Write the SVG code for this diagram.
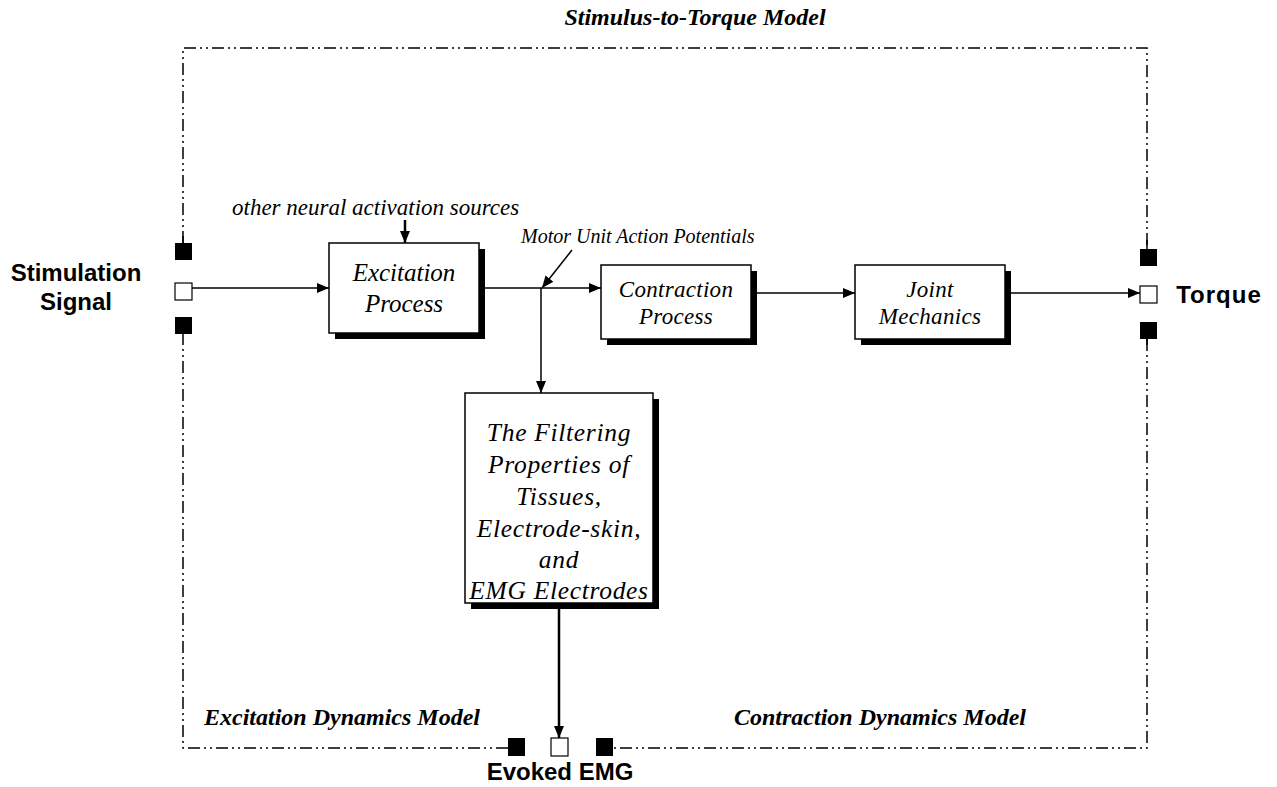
<svg xmlns="http://www.w3.org/2000/svg" width="1277" height="787" viewBox="0 0 1277 787">
<style>
.frame{fill:none;stroke:#000;stroke-width:1.5;stroke-dasharray:12 4 2 4 2 4}
.box{fill:#fff;stroke:#000;stroke-width:1.5}
.shadow{fill:#000}
.bt{font-family:"Liberation Serif",serif;font-style:italic;font-size:25px;text-anchor:middle;fill:#000}
.bs{font-family:"Liberation Serif",serif;font-style:italic;font-size:23px;letter-spacing:0.3px;text-anchor:middle;fill:#000}
.ft{font-family:"Liberation Serif",serif;font-style:italic;font-size:25.5px;letter-spacing:0.7px;text-anchor:middle;fill:#000}
.lbl{font-family:"Liberation Serif",serif;font-style:italic;font-size:23px;fill:#000}
.mlbl{font-family:"Liberation Serif",serif;font-style:italic;font-weight:bold;font-size:24px;fill:#000}
.io{font-family:"Liberation Sans",Arial,sans-serif;font-weight:bold;font-size:24px;fill:#000;text-anchor:middle}
.port{fill:#000}
.oport{fill:#fff;stroke:#000;stroke-width:1.2}
.conn{fill:none;stroke:#000;stroke-width:1.5}
.thick{fill:none;stroke:#000;stroke-width:2.5}
</style>
<defs>
<marker id="ah" markerWidth="12" markerHeight="10" refX="12" refY="5" orient="auto" markerUnits="userSpaceOnUse">
<path d="M0,0 L12,5 L0,10 Z" fill="#000"/>
</marker>
</defs>

<g id="frame">
<path class="frame" d="M183,243 L183,48 L1147,48 L1147,249"/>
<path class="frame" d="M1147,339 L1147,748 L613,748"/>
<path class="frame" d="M508,748 L183,748 L183,334"/>
<text class="mlbl" x="695" y="25" text-anchor="middle">Stimulus-to-Torque Model</text>
<text class="mlbl" x="204" y="725">Excitation Dynamics Model</text>
<text class="mlbl" x="734" y="725">Contraction Dynamics Model</text>
</g>

<g id="ports">
<rect class="port" x="175" y="243" width="17" height="17"/>
<rect class="oport" x="175" y="283" width="17" height="17"/>
<rect class="port" x="175" y="317" width="17" height="17"/>
<rect class="port" x="1140" y="249" width="17" height="17"/>
<rect class="oport" x="1140" y="286" width="17" height="17"/>
<rect class="port" x="1140" y="322" width="17" height="17"/>
<rect class="port" x="508" y="738" width="17" height="18"/>
<rect class="oport" x="551" y="738" width="17" height="18"/>
<rect class="port" x="596" y="738" width="17" height="18"/>
</g>

<g id="io-labels">
<text class="io" x="76" y="281">Stimulation</text>
<text class="io" x="76" y="310">Signal</text>
<text class="io" x="1219" y="303" style="letter-spacing:1px">Torque</text>
<text class="io" x="560" y="780">Evoked EMG</text>
</g>

<g id="excitation">
<rect class="shadow" x="335" y="249" width="150" height="90"/>
<rect class="box" x="329" y="243" width="150" height="90"/>
<text class="bt" x="404" y="281">Excitation</text>
<text class="bt" x="404" y="312">Process</text>
</g>

<g id="contraction">
<rect class="shadow" x="607" y="271" width="150" height="74"/>
<rect class="box" x="601" y="265" width="150" height="74"/>
<text class="bs" x="676" y="297">Contraction</text>
<text class="bs" x="676" y="324">Process</text>
</g>

<g id="joint">
<rect class="shadow" x="861" y="271" width="150" height="74"/>
<rect class="box" x="855" y="265" width="150" height="74"/>
<text class="bs" x="930" y="297">Joint</text>
<text class="bs" x="930" y="324">Mechanics</text>
</g>

<g id="filtering">
<rect class="shadow" x="471" y="399" width="188" height="210"/>
<rect class="box" x="465" y="393" width="188" height="210"/>
<text class="ft" x="559" y="441">The Filtering</text>
<text class="ft" x="559" y="473">Properties of</text>
<text class="ft" x="559" y="505">Tissues,</text>
<text class="ft" x="559" y="537">Electrode-skin,</text>
<text class="ft" x="559" y="568">and</text>
<text class="ft" x="559" y="599">EMG Electrodes</text>
</g>

<g id="annotations">
<text class="lbl" x="232" y="215">other neural activation sources</text>
<text class="lbl" x="521" y="243" style="font-size:20px">Motor Unit Action Potentials</text>
</g>

<g id="connectors">
<line class="conn" x1="192" y1="288" x2="329" y2="288" marker-end="url(#ah)"/>
<line class="thick" x1="405" y1="220" x2="405" y2="243" marker-end="url(#ah)"/>
<line class="conn" x1="485" y1="288" x2="601" y2="288" marker-end="url(#ah)"/>
<line class="conn" x1="572" y1="250" x2="542" y2="288" marker-end="url(#ah)"/>
<line class="conn" x1="541" y1="288" x2="541" y2="393" marker-end="url(#ah)"/>
<line class="conn" x1="757" y1="293" x2="855" y2="293" marker-end="url(#ah)"/>
<line class="conn" x1="1011" y1="293" x2="1140" y2="293" marker-end="url(#ah)"/>
<line class="thick" x1="559" y1="609" x2="559" y2="738" marker-end="url(#ah)"/>
<line class="conn" x1="183" y1="236" x2="183" y2="243"/>
<line class="conn" x1="1147" y1="240" x2="1147" y2="249"/>
<line class="conn" x1="1147" y1="339" x2="1147" y2="345"/>
</g>
</svg>
